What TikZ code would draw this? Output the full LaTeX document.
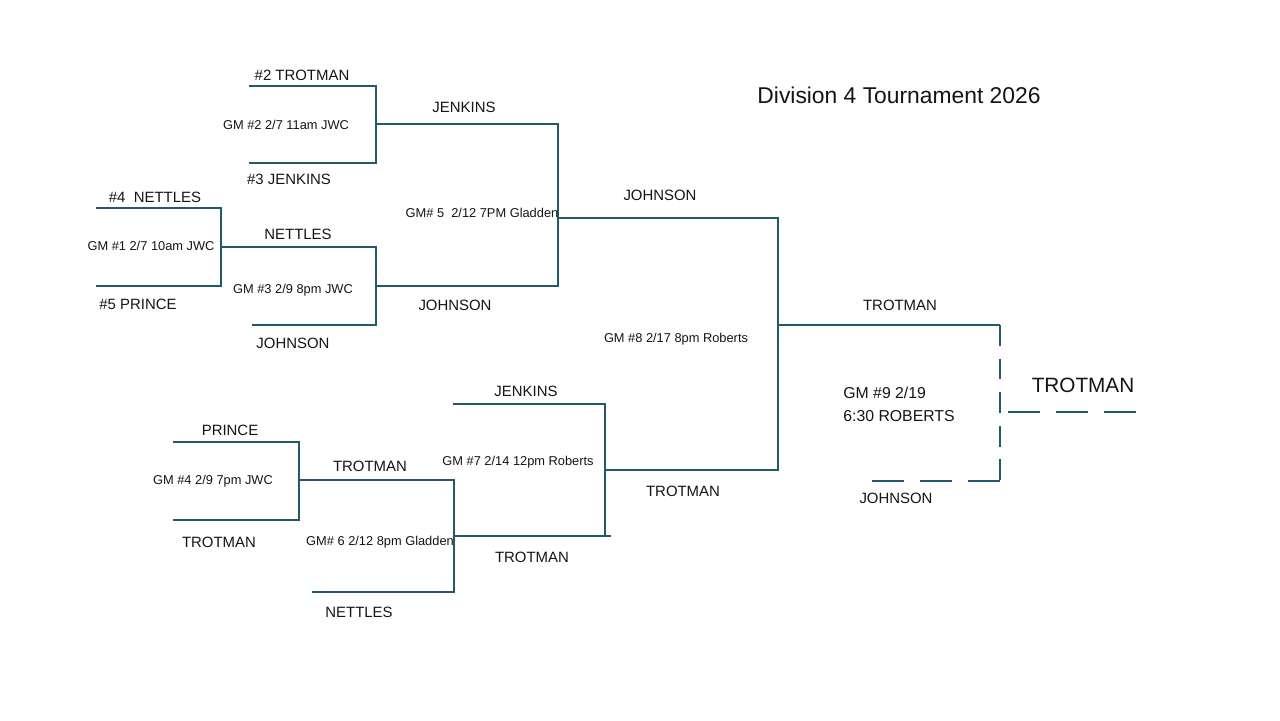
\documentclass[tikz,border=0pt]{standalone}
\usepackage{fontspec}
\setmainfont{Liberation Sans}
\usepackage{tikz}

\definecolor{bline}{RGB}{35,90,105}
\definecolor{ink}{RGB}{20,20,20}

\tikzset{
  brk/.style={draw=bline, line width=1.1pt},
  vdash/.style={dash pattern=on 11.9pt off 7.2pt},
  hdash/.style={dash pattern=on 18.1pt off 9.3pt},
  team/.style={inner sep=0pt, text=ink, font=\fontsize{8.5}{10}\selectfont},
  gmtag/.style={inner sep=0pt, text=ink, font=\fontsize{7.3}{8}\selectfont},
}

\begin{document}
\begin{tikzpicture}[x=0.02cm, y=-0.02cm]
\useasboundingbox (0,0) rectangle (1280,720);

% corners of the bracket (pixel grid of the sheet)
\foreach \n/\x/\y in {g2t1/249/86, g2t2/376/86, g2b1/249/163, g2b2/376/163, g2o/376/124,
  g1t1/96/208, g1t2/221/208, g1b1/96/286, g1b2/221/286, g1o/221/247,
  g3t/376/247, g3b1/252/325, g3b2/376/325, g3o/376/286,
  g5t/558/124, g5b/558/286, g5o/558/218,
  g4t1/173/442, g4t2/299/442, g4b1/173/520, g4b2/299/520, g4o/299/480,
  g6t/454/480, g6b1/312/592, g6b2/454/592, g6o/454/536, g6e/611/536,
  g7t1/453/404, g7t2/605/404, g7b/605/536, g7o/605/470,
  g8t/778/218, g8b/778/470, g8o/778/325,
  g9t/1000/325, g9b1/872/481, g9b2/1000/481, g9o1/1008/412, g9o2/1138/412}
  \coordinate (\n) at (\x,\y);

% upper half
\draw[brk] (g2t1) -- (g2t2) -- (g2b2) -- (g2b1);
\draw[brk] (g1t1) -- (g1t2) -- (g1b2) -- (g1b1);
\draw[brk] (g1o) -- (g3t) -- (g3b2) -- (g3b1);
\draw[brk] (g2o) -- (g5t) -- (g5b) -- (g3o);
\draw[brk] (g5o) -- (g8t) -- (g8b) -- (g7o);
% lower half
\draw[brk] (g4t1) -- (g4t2) -- (g4b2) -- (g4b1);
\draw[brk] (g4o) -- (g6t) -- (g6b2) -- (g6b1);
\draw[brk] (g6o) -- (g6e);
\draw[brk] (g7t1) -- (g7t2) -- (g7b);
% final
\draw[brk] (g8o) -- (g9t);
\draw[brk, vdash] (g9t) -- (g9b2);
\draw[brk, hdash] (g9b1) -- (g9b2);
\draw[brk, hdash] (g9o1) -- (g9o2);

% teams
\node[team] (s2) at (302,75) {\#2 TROTMAN};
\node[team] (s3) at (289,179) {\#3 JENKINS};
\node[team] (s4) at (155,197) {\#4~~NETTLES};
\node[team] (s5) at (138,304) {\#5 PRINCE};
\node[team] (johA) at (293,343) {JOHNSON};
\node[team] (w2) at (464,107) {JENKINS};
\node[team] (w1) at (298,234) {NETTLES};
\node[team] (w3) at (455,305) {JOHNSON};
\node[team] (w5) at (660,195) {JOHNSON};
\node[team] (priB) at (230,430) {PRINCE};
\node[team] (troB) at (219,542) {TROTMAN};
\node[team] (netB) at (359,612) {NETTLES};
\node[team] (w4) at (370,466) {TROTMAN};
\node[team] (w6) at (532,557) {TROTMAN};
\node[team] (jenB) at (526,391) {JENKINS};
\node[team] (w7) at (683,491) {TROTMAN};
\node[team] (w8) at (900,305) {TROTMAN};
\node[team] (joh9) at (896,498) {JOHNSON};
\node[team, font=\fontsize{11.8}{13}\selectfont] (champ) at (1083,385) {TROTMAN};

% games
\node[gmtag] (gm2) at (286,125) {GM \#2 2/7 11am JWC};
\node[gmtag] (gm1) at (151,246) {GM \#1 2/7 10am JWC};
\node[gmtag] (gm3) at (293,290) {GM \#3 2/9 8pm JWC};
\node[gmtag] (gm5) at (482,213) {GM\# 5~~2/12 7PM Gladden};
\node[gmtag] (gm4) at (213,481) {GM \#4 2/9 7pm JWC};
\node[gmtag] (gm6) at (380,542) {GM\# 6 2/12 8pm Gladden};
\node[gmtag] (gm7) at (518,462) {GM \#7 2/14 12pm Roberts};
\node[gmtag] (gm8) at (676,339) {GM \#8 2/17 8pm Roberts};
\node[team, font=\fontsize{9}{13}\selectfont, align=left, anchor=west] (gm9) at (843,404)
  {GM \#9 2/19\\6:30 ROBERTS};

\node[team, font=\fontsize{13}{15}\selectfont] (title) at (899,95) {Division 4 Tournament 2026};
\end{tikzpicture}
\end{document}
